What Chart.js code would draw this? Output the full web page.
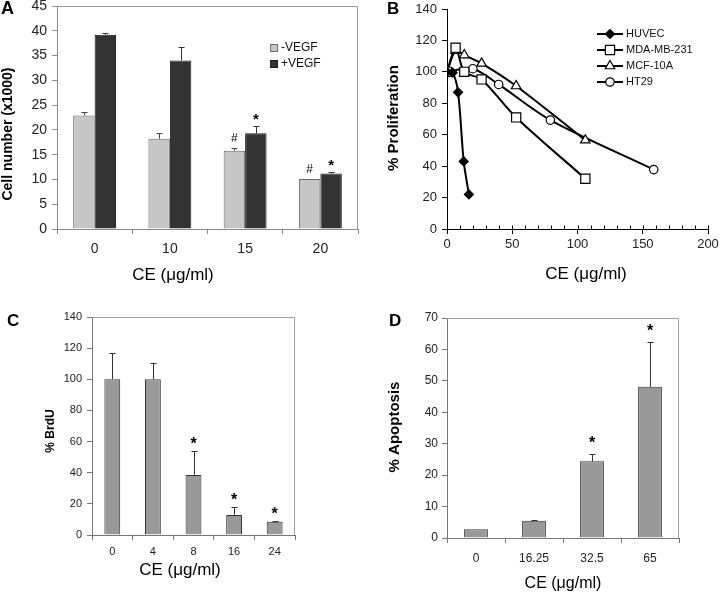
<!DOCTYPE html>
<html>
<head>
<meta charset="utf-8">
<title>CE dose response</title>
<script src="https://cdn.jsdelivr.net/npm/chart.js@4.4.1/dist/chart.umd.min.js"></script>
<style>
  body { margin: 0; background: #fff; }
  #wrap { position: relative; width: 720px; height: 593px; overflow: hidden; }
  #wrap canvas { position: absolute; left: 0; top: 0; }
</style>
</head>
<body>
<div id="wrap">
  <canvas id="chartA" width="720" height="593"></canvas>
  <canvas id="chartB" width="720" height="593"></canvas>
  <canvas id="chartC" width="720" height="593"></canvas>
  <canvas id="chartD" width="720" height="593"></canvas>
</div>
<script>
// ---- panel A: cell number, -/+ VEGF
const doseA = ['0', '10', '15', '20'];
const cellsNoVegf = [22.9, 18.2, 15.8, 10.1];
const cellsNoVegfErr = [0.8, 1.2, 0.5, 0];
const cellsVegf = [39.2, 34.0, 19.3, 11.2];
const cellsVegfErr = [0.35, 2.8, 1.5, 0.35];
const marksNoVegf = ['', '', '#', '#'];
const marksVegf = ['', '', '*', '*'];

// ---- panel B: % proliferation per cell line
const huvecDose = [0, 4.3, 8.5, 12.8, 16.8];
const huvecProlif = [100, 99.5, 87, 43, 22];
const mdaDose = [0, 6.6, 13.25, 26.5, 53, 106];
const mdaProlif = [100, 115.4, 100, 95.2, 71, 32];
const mcfDose = [0, 6.6, 13.25, 26.5, 53, 106];
const mcfProlif = [100, 113.5, 110.7, 105.4, 91, 56.5];
const ht29Dose = [0, 19.8, 39.6, 79.2, 158.4];
const ht29Prolif = [100, 102, 92, 69.3, 37.8];

// ---- panel C: % BrdU
const doseC = ['0', '4', '8', '16', '24'];
const brdu = [100, 100, 38.6, 12.9, 8.5];
const brduErr = [16.9, 10.4, 15.6, 5.3, 0.6];
const marksBrdu = ['', '', '*', '*', '*'];

// ---- panel D: % apoptosis
const doseD = ['0', '16.25', '32.5', '65'];
const apoptosis = [2.8, 5.5, 24.4, 48.1];
const apoptosisErr = [0, 0.3, 2.3, 14.2];
const marksApoptosis = ['', '', '*', '*'];

const FONT = "'Liberation Sans', Arial, Helvetica, sans-serif";
Chart.defaults.font.family = FONT;
Chart.defaults.color = '#222';
Chart.defaults.animation = false;
Chart.defaults.plugins.legend.display = false;
Chart.defaults.plugins.tooltip.enabled = false;

// every canvas covers the whole page, so plot areas are given in page pixels
const areaA = { left: 57, right: 358, top: 6, bottom: 229 };
const areaB = { left: 447, right: 708, top: 9, bottom: 229 };
const areaC = { left: 92, right: 295, top: 317, bottom: 535 };
const areaD = { left: 447, right: 679, top: 318, bottom: 538 };

function padFor(area) {
  return { padding: { left: 0, top: area.top, right: 720 - area.right, bottom: 0 } };
}
function yFit(area) {
  return s => { s.width = area.left; s.paddingTop = 0; s.paddingBottom = 0; };
}
function xFit(area) {
  return s => { s.height = 593 - area.bottom; s.paddingLeft = 0; s.paddingRight = 0; };
}
function pts(xs, ys) {
  return xs.map((x, i) => ({ x: x, y: ys[i] }));
}

const frame = {
  id: 'frame',
  afterDraw(chart, args, opts) {
    if (!opts.color) return;
    const { left, top, right, bottom } = chart.chartArea;
    const ctx = chart.ctx;
    ctx.save();
    ctx.strokeStyle = opts.color;
    ctx.lineWidth = 1;
    ctx.beginPath();
    ctx.moveTo(left, Math.round(top) + 0.5);
    ctx.lineTo(Math.round(right) - 0.5, Math.round(top) + 0.5);
    ctx.lineTo(Math.round(right) - 0.5, bottom);
    ctx.stroke();
    ctx.restore();
  }
};

// inward tick marks on the x axis (Excel style: minor inside, major across)
const innerTicks = {
  id: 'innerTicks',
  afterDraw(chart) {
    const scale = chart.scales.x;
    const ctx = chart.ctx;
    const y = Math.round(scale.top) + 0.5;
    ctx.save();
    ctx.strokeStyle = '#000';
    ctx.lineWidth = 1;
    ctx.beginPath();
    scale.ticks.forEach(t => {
      const x = Math.round(scale.getPixelForValue(t.value)) + 0.5;
      ctx.moveTo(x, y);
      ctx.lineTo(x, y - 4);
    });
    ctx.stroke();
    ctx.restore();
  }
};

const errorBars = {
  id: 'errorBars',
  afterDatasetsDraw(chart) {
    const ctx = chart.ctx;
    const yScale = chart.scales.y;
    chart.data.datasets.forEach((ds, i) => {
      if (!ds.errors) return;
      chart.getDatasetMeta(i).data.forEach((bar, j) => {
        const top = Math.round(yScale.getPixelForValue(ds.data[j] + ds.errors[j])) + 0.5;
        const x = Math.round(bar.x) + 0.5;
        ctx.save();
        ctx.strokeStyle = ds.errorColor || '#333';
        ctx.lineWidth = 1;
        if (ds.errors[j] > 0) {
          ctx.beginPath();
          ctx.moveTo(x, bar.y);
          ctx.lineTo(x, top);
          ctx.moveTo(x - 3, top);
          ctx.lineTo(x + 3, top);
          ctx.stroke();
        }
        const mark = ds.marks && ds.marks[j];
        if (mark) {
          ctx.fillStyle = '#000';
          ctx.font = ds.markFont;
          ctx.textAlign = 'center';
          ctx.textBaseline = 'alphabetic';
          ctx.fillText(mark, bar.x, top - ds.markLift);
        }
        ctx.restore();
      });
    });
  }
};

function notes(items) {
  return {
    id: 'notes',
    afterDraw(chart) {
      const ctx = chart.ctx;
      items.forEach(t => {
        ctx.save();
        ctx.translate(t.x, t.y);
        if (t.rotate) ctx.rotate(t.rotate * Math.PI / 180);
        ctx.font = t.font + ' ' + FONT;
        ctx.fillStyle = '#000';
        ctx.textAlign = t.align || 'center';
        ctx.textBaseline = 'middle';
        ctx.fillText(t.text, 0, 0);
        ctx.restore();
      });
    }
  };
}

// legend: square swatches for bars, line + marker for the curves
function key(cfg) {
  return {
    id: 'key',
    afterDraw(chart) {
      const ctx = chart.ctx;
      chart.data.datasets.forEach((ds, i) => {
        const y = cfg.y + i * cfg.gap;
        ctx.save();
        if (cfg.kind === 'box') {
          ctx.fillStyle = ds.backgroundColor;
          ctx.strokeStyle = ds.borderColor;
          ctx.lineWidth = 1;
          ctx.fillRect(cfg.x, y - 4, 8, 8);
          ctx.strokeRect(cfg.x + 0.5, y - 3.5, 7, 7);
        } else {
          ctx.strokeStyle = ds.borderColor;
          ctx.lineWidth = ds.borderWidth;
          ctx.beginPath();
          ctx.moveTo(cfg.x, y);
          ctx.lineTo(cfg.x + cfg.line, y);
          ctx.stroke();
          ctx.fillStyle = ds.pointBackgroundColor;
          ctx.lineWidth = ds.pointBorderWidth;
          Chart.helpers.drawPoint(ctx, {
            pointStyle: ds.pointStyle, radius: ds.pointRadius, rotation: 0, borderWidth: ds.pointBorderWidth
          }, cfg.x + cfg.line / 2, y);
        }
        ctx.fillStyle = '#111';
        ctx.font = cfg.font + ' ' + FONT;
        ctx.textAlign = 'left';
        ctx.textBaseline = 'middle';
        ctx.fillText(ds.label, cfg.textX, y);
        ctx.restore();
      });
    }
  };
}

function barAxes(area, yMax, yStep, font, gray, xPad, yPad) {
  return {
    x: {
      afterFit: xFit(area),
      grid: { drawOnChartArea: false, offset: true, tickLength: 5, color: gray },
      border: { color: gray },
      ticks: { font: { size: font }, padding: xPad, maxRotation: 0 }
    },
    y: {
      min: 0, max: yMax,
      afterFit: yFit(area),
      grid: { drawOnChartArea: false, tickLength: 5, color: gray },
      border: { color: gray },
      ticks: { stepSize: yStep, font: { size: font }, padding: yPad }
    }
  };
}

new Chart(document.getElementById('chartA'), {
  type: 'bar',
  data: {
    labels: doseA,
    datasets: [
      {
        label: '-VEGF', data: cellsNoVegf, errors: cellsNoVegfErr, marks: marksNoVegf,
        markFont: '12px ' + FONT, markLift: 7, errorColor: '#444',
        backgroundColor: '#c6c6c6', borderColor: '#6a6a6a', borderWidth: 1,
        categoryPercentage: 0.57, barPercentage: 1
      },
      {
        label: '+VEGF', data: cellsVegf, errors: cellsVegfErr, marks: marksVegf,
        markFont: 'bold 15px ' + FONT, markLift: 3, errorColor: '#333',
        backgroundColor: '#333333', borderColor: '#1a1a1a', borderWidth: 1,
        categoryPercentage: 0.57, barPercentage: 1
      }
    ]
  },
  options: {
    responsive: false,
    layout: padFor(areaA),
    scales: barAxes(areaA, 45, 5, 14, '#8a8a8a', 7, 5),
    plugins: { frame: { color: '#9a9a9a' } }
  },
  plugins: [frame, errorBars, key({ kind: 'box', x: 270, y: 48, gap: 16, textX: 281, font: '12px' }), notes([
    { text: 'A', x: 1, y: 9, font: 'bold 18px', align: 'left' },
    { text: 'Cell number (x1000)', x: 8, y: 134, font: 'bold 14px', rotate: -90 },
    { text: 'CE (\u03bcg/ml)', x: 173, y: 275, font: '17px' }
  ])]
});

const lineStyle = { borderColor: '#000', borderWidth: 2, showLine: true, tension: 0.3, pointBorderColor: '#000', pointBorderWidth: 1.2 };

new Chart(document.getElementById('chartB'), {
  type: 'scatter',
  data: {
    datasets: [
      Object.assign({ label: 'HUVEC', data: pts(huvecDose, huvecProlif), pointStyle: 'rectRot', pointRadius: 4.5, pointBackgroundColor: '#000' }, lineStyle),
      Object.assign({ label: 'MDA-MB-231', data: pts(mdaDose, mdaProlif), pointStyle: 'rect', pointRadius: 6.5, pointBackgroundColor: '#fff' }, lineStyle),
      Object.assign({ label: 'MCF-10A', data: pts(mcfDose, mcfProlif), pointStyle: 'triangle', pointRadius: 5.5, pointBackgroundColor: '#fff' }, lineStyle),
      Object.assign({ label: 'HT29', data: pts(ht29Dose, ht29Prolif), pointStyle: 'circle', pointRadius: 4.2, pointBackgroundColor: '#fff' }, lineStyle)
    ]
  },
  options: {
    responsive: false,
    layout: padFor(areaB),
    scales: {
      x: {
        type: 'linear', min: 0, max: 200,
        afterFit: xFit(areaB),
        grid: {
          drawOnChartArea: false, tickLength: 5, color: '#000',
          tickColor: c => (c.tick && c.tick.value % 50 === 0 ? '#000' : 'rgba(0,0,0,0)')
        },
        border: { color: '#000' },
        ticks: {
          stepSize: 10, autoSkip: false, maxRotation: 0, font: { size: 13 }, padding: 3,
          callback: v => (v % 50 === 0 ? v : '')
        }
      },
      y: {
        min: 0, max: 140,
        afterFit: yFit(areaB),
        grid: { drawOnChartArea: false, tickLength: 5, color: '#000' },
        border: { color: '#000' },
        ticks: { stepSize: 20, font: { size: 13 }, padding: 5 }
      }
    }
  },
  plugins: [innerTicks, key({ kind: 'line', x: 597, y: 34, gap: 16, line: 26, textX: 626, font: '11px' }), notes([
    { text: 'B', x: 387, y: 9, font: 'bold 17px', align: 'left' },
    { text: '% Proliferation', x: 394, y: 118, font: 'bold 15px', rotate: -90 },
    { text: 'CE (\u03bcg/ml)', x: 586, y: 274, font: '17px' }
  ])]
});

new Chart(document.getElementById('chartC'), {
  type: 'bar',
  data: {
    labels: doseC,
    datasets: [{
      label: '% BrdU', data: brdu, errors: brduErr, marks: marksBrdu,
      markFont: 'bold 16px ' + FONT, markLift: 3, errorColor: '#333',
      backgroundColor: '#999999', borderColor: '#333', borderWidth: 1,
      categoryPercentage: 0.39, barPercentage: 1
    }]
  },
  options: {
    responsive: false,
    layout: padFor(areaC),
    scales: barAxes(areaC, 140, 20, 11, '#777', 5, 5),
    plugins: { frame: { color: '#a0a0a0' } }
  },
  plugins: [frame, errorBars, notes([
    { text: 'C', x: 7, y: 321, font: 'bold 17px', align: 'left' },
    { text: '% BrdU', x: 51, y: 431, font: 'bold 12px', rotate: -90 },
    { text: 'CE (\u03bcg/ml)', x: 180, y: 570, font: '17px' }
  ])]
});

new Chart(document.getElementById('chartD'), {
  type: 'bar',
  data: {
    labels: doseD,
    datasets: [{
      label: '% Apoptosis', data: apoptosis, errors: apoptosisErr, marks: marksApoptosis,
      markFont: 'bold 16px ' + FONT, markLift: 7, errorColor: '#333',
      backgroundColor: '#999999', borderColor: '#333', borderWidth: 1,
      categoryPercentage: 0.41, barPercentage: 1
    }]
  },
  options: {
    responsive: false,
    layout: padFor(areaD),
    scales: barAxes(areaD, 70, 10, 12, '#777', 8, 4),
    plugins: { frame: { color: '#a0a0a0' } }
  },
  plugins: [frame, errorBars, notes([
    { text: 'D', x: 389, y: 321, font: 'bold 17px', align: 'left' },
    { text: '% Apoptosis', x: 395, y: 427, font: 'bold 15px', rotate: -90 },
    { text: 'CE (\u03bcg/ml)', x: 563, y: 584, font: '16px' }
  ])]
});
</script>
</body>
</html>
